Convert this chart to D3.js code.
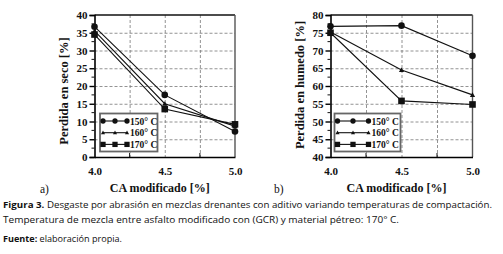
<!DOCTYPE html>
<html>
<head>
<meta charset="utf-8">
<script src="https://cdn.jsdelivr.net/npm/d3@7"></script>
<style>
  body { margin: 0; background: #fff; }
  svg text { fill: #111; }
  .ax { font-family: "Liberation Serif", serif; font-weight: bold; }
  .cap { font-family: "Open Sans", sans-serif; }
</style>
</head>
<body>
<svg id="chart" width="503" height="254"></svg>
<script>
// CA modificado [%]
var xValues = [4.0, 4.5, 5.0]
var series = ["150° C", "160° C", "170° C"]
var markers = ["circle", "triangle", "square"]

// Perdida en seco [%]
var seco150 = [36.7, 17.5, 7.2]
var seco160 = [35.5, 15.0, 8.7]
var seco170 = [34.5, 13.5, 9.2]

// Perdida en humedo [%]
var humedo150 = [76.8, 77.0, 68.5]
var humedo160 = [75.2, 64.5, 57.5]
var humedo170 = [75.0, 55.8, 54.8]

var xTicks = [4.0, 4.5, 5.0]
var secoTicks = [0, 5, 10, 15, 20, 25, 30, 35, 40]
var humedoTicks = [40, 45, 50, 55, 60, 65, 70, 75, 80]

var svg = d3.select("#chart")

function drawPanel(opt) {
  var x = d3.scaleLinear().domain([4.0, 5.0]).range([opt.left, opt.right])
  var y = d3.scaleLinear().domain(opt.domain).range([157, 15])
  var g = svg.append("g")

  // dashed grid
  g.selectAll(".hgrid")
    .data(opt.ticks.slice(1, -1))
    .enter().append("line")
    .attr("x1", opt.left).attr("x2", opt.right)
    .attr("y1", d => y(d) + 0.5).attr("y2", d => y(d) + 0.5)
    .attr("stroke", "#777").attr("stroke-width", 0.8)
    .attr("stroke-dasharray", "3,2")

  g.selectAll(".vgrid")
    .data([4.25, 4.5, 4.75])
    .enter().append("line")
    .attr("x1", d => x(d) + 0.5).attr("x2", d => x(d) + 0.5)
    .attr("y1", 15).attr("y2", 157)
    .attr("stroke", "#777").attr("stroke-width", 0.8)
    .attr("stroke-dasharray", "3,2")

  // frame
  g.append("line").attr("x1", opt.left).attr("x2", opt.right).attr("y1", 15).attr("y2", 15)
    .attr("stroke", "#111").attr("stroke-width", 1.6)
  g.append("line").attr("x1", opt.right).attr("x2", opt.right).attr("y1", 15).attr("y2", 157)
    .attr("stroke", "#555").attr("stroke-width", 1.4)

  // y axis with minor ticks
  var yAxis = g.append("g")
    .attr("transform", "translate(" + opt.left + ",0)")
    .call(d3.axisLeft(y).tickValues(opt.ticks).tickSize(5).tickPadding(2).tickFormat(d3.format("d")))
  yAxis.selectAll(".tick text").attr("class", "ax").style("font-size", "11px")
  yAxis.select(".domain").attr("stroke-width", 1.6)
  yAxis.selectAll(".tick line").attr("stroke-width", 1.4)
  g.selectAll(".ymin")
    .data(d3.range(opt.domain[0] + 2.5, opt.domain[1], 5))
    .enter().append("line")
    .attr("x1", opt.left - 3).attr("x2", opt.left)
    .attr("y1", d => y(d)).attr("y2", d => y(d))
    .attr("stroke", "#111").attr("stroke-width", 1)

  // x axis
  var xAxis = g.append("g")
    .attr("transform", "translate(0,157)")
    .call(d3.axisBottom(x).tickValues(xTicks).tickSize(0).tickPadding(10).tickFormat(d3.format(".1f")))
  xAxis.selectAll(".tick text").attr("class", "ax").style("font-size", "11px")
  xAxis.select(".domain").attr("stroke-width", 1.6)
  g.selectAll(".xmin")
    .data([4.25, 4.75])
    .enter().append("line")
    .attr("x1", d => x(d)).attr("x2", d => x(d))
    .attr("y1", 157).attr("y2", 153)
    .attr("stroke", "#111")

  // lines and markers
  var line = d3.line().x((d, i) => x(xValues[i])).y(d => y(d))
  opt.data.forEach(function(vals, k) {
    g.append("path").datum(vals).attr("d", line)
      .attr("fill", "none").attr("stroke", "#111").attr("stroke-width", 1.1)
    vals.forEach(function(v, i) {
      drawMarker(g, markers[k], x(xValues[i]), y(v), 1)
    })
  })

  // legend
  var lg = g.append("g")
  lg.append("rect")
    .attr("x", opt.legend[0]).attr("y", 113.5)
    .attr("width", opt.legend[1]).attr("height", 38)
    .attr("fill", "#fff").attr("stroke", "#666").attr("stroke-width", 1.8)
  series.forEach(function(s, k) {
    var ly = 121 + k * 11.7
    var x0 = opt.legend[0] + 3, x1 = x0 + opt.legend[2]
    lg.append("line").attr("x1", x0).attr("x2", x1).attr("y1", ly).attr("y2", ly)
      .attr("stroke", "#111").attr("stroke-width", 1.1)
    ;[x0, (x0 + x1) / 2, x1].forEach(function(mx) {
      drawMarker(lg, markers[k], mx, ly, 0.8)
    })
    lg.append("text")
      .attr("x", x1 + 3).attr("y", ly + 3.5)
      .style("font-family", "Liberation Serif, serif")
      .style("font-size", "9.5px").style("font-weight", "bold")
      .text(s)
  })

  // axis titles
  svg.append("text").attr("class", "ax")
    .attr("transform", "translate(" + opt.titleX + "," + opt.titleY + ") rotate(-90)")
    .attr("text-anchor", "middle").style("font-size", "12.5px")
    .text(opt.title)
  svg.append("text").attr("class", "ax")
    .attr("x", (opt.left + opt.right) / 2 - 5).attr("y", 192)
    .attr("text-anchor", "middle").style("font-size", "12px")
    .text("CA modificado [%]")
  svg.append("text")
    .attr("x", opt.tag[0]).attr("y", 193)
    .style("font-family", "Liberation Serif, serif").style("font-size", "11.5px")
    .text(opt.tag[1])
}

function drawMarker(g, type, cx, cy, s) {
  if (type == "circle") {
    g.append("circle").attr("cx", cx).attr("cy", cy).attr("r", 3.3 * s).attr("fill", "#111")
  } else if (type == "square") {
    var h = 3.3 * s
    g.append("rect").attr("x", cx - h).attr("y", cy - h).attr("width", 2 * h).attr("height", 2 * h).attr("fill", "#111")
  } else {
    var t = 2.6 * s
    g.append("path")
      .attr("d", "M" + cx + "," + (cy - t) + "L" + (cx + t) + "," + (cy + t * 0.8) + "L" + (cx - t) + "," + (cy + t * 0.8) + "Z")
      .attr("fill", "#111")
  }
}

drawPanel({
  left: 94.5, right: 235, domain: [0, 40], ticks: secoTicks,
  data: [seco150, seco160, seco170],
  legend: [100, 57.5, 24],
  title: "Perdida en seco [%]", titleX: 68, titleY: 91,
  tag: [40, "a)"]
})

drawPanel({
  left: 330.5, right: 472.5, domain: [40, 80], ticks: humedoTicks,
  data: [humedo150, humedo160, humedo170],
  legend: [334.5, 66, 31],
  title: "Perdida en humedo [%]", titleX: 304, titleY: 85,
  tag: [274, "b)"]
})

// caption
var cap = svg.append("g").attr("class", "cap")
var l1 = cap.append("text").attr("x", 3).attr("y", 208).style("font-size", "9.6px")
  .attr("textLength", 489).attr("lengthAdjust", "spacingAndGlyphs")
l1.append("tspan").style("font-weight", "bold").text("Figura 3.")
l1.append("tspan").text(" Desgaste por abrasión en mezclas drenantes con aditivo variando temperaturas de compactación.")
cap.append("text").attr("x", 3).attr("y", 223).style("font-size", "9.6px")
  .attr("textLength", 396).attr("lengthAdjust", "spacingAndGlyphs")
  .text("Temperatura de mezcla entre asfalto modificado con (GCR) y material pétreo: 170° C.")
var l3 = cap.append("text").attr("x", 3).attr("y", 242).style("font-size", "8.5px")
  .attr("textLength", 119).attr("lengthAdjust", "spacingAndGlyphs")
l3.append("tspan").style("font-weight", "bold").text("Fuente:")
l3.append("tspan").text(" elaboración propia.")
</script>
</body>
</html>
